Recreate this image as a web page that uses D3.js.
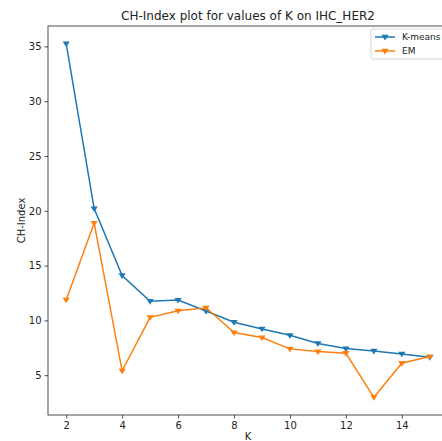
<!DOCTYPE html>
<html>
<head>
<meta charset="utf-8">
<script src="https://cdn.jsdelivr.net/npm/d3@7"></script>
<style>
  body { margin: 0; background: #fff; }
  svg { display: block; font-family: "DejaVu Sans", sans-serif; }
</style>
</head>
<body>
<div id="chart"></div>
<script>
// data
const ks = [2, 3, 4, 5, 6, 7, 8, 9, 10, 11, 12, 13, 14, 15]
const kmeans = [35.25, 20.2, 14.1, 11.75, 11.85, 10.85, 9.83, 9.22, 8.64, 7.9, 7.43, 7.21, 6.94, 6.64]
const em = [11.87, 18.88, 5.4, 10.28, 10.87, 11.15, 8.89, 8.43, 7.4, 7.15, 7.0, 2.98, 6.09, 6.7]
const xTicks = [2, 4, 6, 8, 10, 12, 14]
const yTicks = [5, 10, 15, 20, 25, 30, 35]

const series = [
  { name: 'K-means', values: kmeans, color: '#1f77b4' },
  { name: 'EM', values: em, color: '#ff7f0e' },
]

/*----------------------------------------------------------------------------*/

const width = 442
const height = 441
const margin = { top: 26, right: -6, bottom: 26, left: 48 }

const pad = (lo, hi) => [lo - (hi - lo) * 0.05, hi + (hi - lo) * 0.05]
const allY = kmeans.concat(em)

const x = d3.scaleLinear()
  .domain(pad(d3.min(ks), d3.max(ks)))
  .range([margin.left, width - margin.right])

const y = d3.scaleLinear()
  .domain(pad(d3.min(allY), d3.max(allY)))
  .range([height - margin.bottom, margin.top])

const svg = d3.select('#chart').append('svg')
  .attr('width', width)
  .attr('height', height)

const tri = s => `M${-s},${-s * 0.6}L${s},${-s * 0.6}L0,${s * 0.95}Z`

// lines + markers
series.forEach(s => {
  const pts = ks.map((k, i) => [k, s.values[i]])
  svg.append('path')
    .datum(pts)
    .attr('fill', 'none')
    .attr('stroke', s.color)
    .attr('stroke-width', 1.5)
    .attr('d', d3.line().x(d => x(d[0])).y(d => y(d[1])))

  svg.selectAll(null)
    .data(pts)
    .enter()
    .append('path')
    .attr('d', tri(3.6))
    .attr('transform', d => `translate(${x(d[0])},${y(d[1])})`)
    .attr('fill', s.color)
})

// axes
const xAxis = svg.append('g')
  .attr('transform', `translate(0,${height - margin.bottom})`)
  .call(d3.axisBottom(x).tickValues(xTicks).tickSize(3.5).tickPadding(3))
const yAxis = svg.append('g')
  .attr('transform', `translate(${margin.left},0)`)
  .call(d3.axisLeft(y).tickValues(yTicks).tickSize(3.5).tickPadding(3))

;[xAxis, yAxis].forEach(a => {
  a.selectAll('text').attr('font-size', 10).attr('font-family', 'DejaVu Sans').attr('fill', '#222')
  a.selectAll('line').attr('stroke', '#222').attr('stroke-width', 0.8)
  a.select('.domain').remove()
})

// spines
const [x0, x1] = x.range()
const [y0, y1] = y.range()
svg.append('rect')
  .attr('x', x0).attr('y', y1)
  .attr('width', x1 - x0).attr('height', y0 - y1)
  .attr('fill', 'none')
  .attr('stroke', '#222')
  .attr('stroke-width', 0.8)

// labels
svg.append('text')
  .attr('x', (x0 + x1) / 2)
  .attr('y', 20)
  .attr('text-anchor', 'middle')
  .attr('font-size', 12)
  .attr('fill', '#222')
  .text('CH-Index plot for values of K on IHC_HER2')

svg.append('text')
  .attr('x', (x0 + x1) / 2)
  .attr('y', 440)
  .attr('text-anchor', 'middle')
  .attr('font-size', 10)
  .attr('fill', '#222')
  .text('K')

svg.append('text')
  .attr('transform', `translate(25,${(y0 + y1) / 2}) rotate(-90)`)
  .attr('text-anchor', 'middle')
  .attr('font-size', 10)
  .attr('fill', '#222')
  .text('CH-Index')

// legend
const lg = svg.append('g').attr('transform', 'translate(371,29)')
lg.append('rect')
  .attr('width', 80).attr('height', 30).attr('rx', 2)
  .attr('fill', '#fff').attr('fill-opacity', 0.8)
  .attr('stroke', '#ccc').attr('stroke-width', 0.8)

series.forEach((s, i) => {
  const row = lg.append('g').attr('transform', `translate(0,${8 + i * 14})`)
  row.append('line')
    .attr('x1', 4).attr('x2', 24)
    .attr('stroke', s.color).attr('stroke-width', 1.5)
  row.append('path')
    .attr('d', tri(3.6))
    .attr('transform', 'translate(14,0)')
    .attr('fill', s.color)
  row.append('text')
    .attr('x', 31).attr('dy', '0.35em')
    .attr('font-size', 9)
    .attr('fill', '#222')
    .text(s.name)
})
</script>
</body>
</html>
